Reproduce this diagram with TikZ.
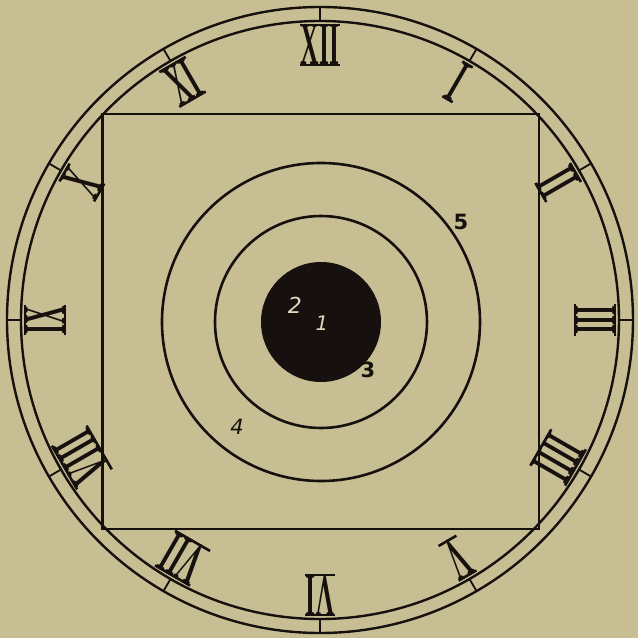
\documentclass[tikz,border=0pt]{standalone}
\usepackage{fontspec}
\usepackage{tikz}
\usetikzlibrary{positioning, calc}
\newfontfamily\clockfont[FakeStretch=0.42]{Liberation Serif}
\newfontfamily\labelfont{DejaVu Sans}
\definecolor{paper}{RGB}{200,190,147}
\definecolor{ink}{RGB}{22,16,14}

\begin{document}
\begin{tikzpicture}[
    x=1pt, y=1pt,
    ring/.style={draw=ink, line width=2.6pt},
    rim/.style={draw=ink, line width=2.4pt},
    numeral/.style={inner sep=0pt, outer sep=0pt, text=ink,
                font=\clockfont\bfseries\fontsize{61}{61}\selectfont,
                text height=40pt, text depth=0pt, rotate=#1},
    bar/.style={draw=ink, line width=2.6pt, shorten <=-1pt, shorten >=-1pt},
    mark/.style={font=\labelfont\fontsize{22}{22}\selectfont, inner sep=0pt, text=#1},
]

% Paper
\useasboundingbox (-320,-318) rectangle (318,320);
\fill[paper] (-320,-318) rectangle (318,320);

% Dial ring and hour ticks
\draw[rim] (0,0) circle (313);
\draw[rim] (0,0) circle (299);
\foreach \h in {1,...,12} {
    \draw[ink, line width=1.8pt] (90-30*\h:299) -- (90-30*\h:313);
}

% Hour numerals
\foreach \h/\txt in {1/I,2/II,3/III,4/IIII,5/V,6/VI,7/VII,8/VIII,9/IX,10/X,11/XI,12/XII} {
    \node[numeral=-30*\h] (h\h) at (90-30*\h:275) {\txt};
    \draw[bar] (h\h.north west) -- (h\h.north east);
    \draw[bar] (h\h.south west) -- (h\h.south east);
}

% Square field
\draw[ring] (-217.5,-209) rectangle (219,206);

% Target
\coordinate (mid) at (1,-2);
\draw[ring] (mid) circle (159);
\draw[ring] (mid) circle (106);
\fill[ink] (mid) circle (60);

% Zone labels
\node[mark=paper!60!white, font=\labelfont\itshape\fontsize{22}{22}\selectfont] (z2) at (-25,15) {2};
\node[mark=paper!60!white, font=\labelfont\itshape\fontsize{20}{20}\selectfont] (z1) at (2,-3) {1};
\node[mark=ink, font=\labelfont\bfseries\fontsize{21}{21}\selectfont] (z3) at (48,-50) {3};
\node[mark=ink, font=\labelfont\itshape\fontsize{21}{21}\selectfont] (z4) at (-83,-107) {4};
\node[mark=ink, font=\labelfont\bfseries\fontsize{21}{21}\selectfont] (z5) at (141,98) {5};

\end{tikzpicture}
\end{document}
